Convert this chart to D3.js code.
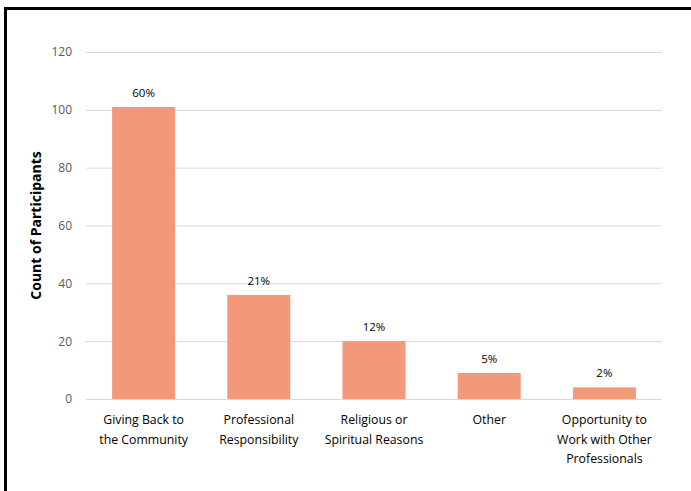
<!DOCTYPE html>
<html>
  <head>
    <meta charset="utf-8">
    <title>Count of Participants</title>
    <style>
      body { margin: 0; background: #fff; }
      text { font-family: "Open Sans", "Liberation Sans", sans-serif; }
      .grid line { stroke: #d9d9d9; stroke-width: 1px; }
      .grid path { display: none; }
      .tick text { fill: #595959; font-size: 12px; }
    </style>
    <script src="https://cdn.jsdelivr.net/npm/d3@7"></script>
  </head>
  <body>
  <script type="text/javascript">
    var categories = [
      ["Giving Back to", "the Community"],
      ["Professional", "Responsibility"],
      ["Religious or", "Spiritual Reasons"],
      ["Other"],
      ["Opportunity to", "Work with Other", "Professionals"]
    ];
    var counts = [101, 36, 20, 9, 4];
    var percents = ["60%", "21%", "12%", "5%", "2%"];
    var yTicks = [0, 20, 40, 60, 80, 100, 120];

    var width = 691, height = 491;
    // plot area edges (note: "top" is taken by window.top)
    var plotLeft = 86, plotRight = 662, plotTop = 52, plotBottom = 399;

    var svg = d3.select("body").append("svg")
      .attr("width", width)
      .attr("height", height);

    // frame round the chart, open to the right and bottom
    svg.append("rect")
      .attr("x", 5.5).attr("y", 8.5)
      .attr("width", 720).attr("height", 520)
      .attr("fill", "none")
      .attr("stroke", "#000")
      .attr("stroke-width", 3);

    var x = d3.scaleBand()
      .domain(d3.range(categories.length))
      .range([plotLeft, plotRight])
      .paddingInner(0.453)
      .paddingOuter(0.2265);

    var y = d3.scaleLinear().domain([0, 120]).range([plotBottom, plotTop]);

    // gridlines + tick labels
    var yAxis = svg.append("g")
      .attr("class", "grid")
      .attr("transform", "translate(" + plotLeft + ",0)")
      .call(d3.axisLeft(y).tickValues(yTicks).tickSize(-(plotRight - plotLeft)).tickPadding(14));
    yAxis.selectAll(".tick line").attr("stroke", "#d9d9d9");

    // bars
    svg.selectAll("rect.bar")
      .data(counts)
      .enter()
      .append("rect")
        .attr("class", "bar")
        .attr("x", function(d, i){ return x(i); })
        .attr("y", function(d){ return y(d); })
        .attr("width", x.bandwidth())
        .attr("height", function(d){ return y(0) - y(d); })
        .attr("fill", "#f4987a");

    // percent labels
    svg.selectAll("text.pct")
      .data(percents)
      .enter()
      .append("text")
        .attr("class", "pct")
        .attr("x", function(d, i){ return x(i) + x.bandwidth() / 2; })
        .attr("y", function(d, i){ return y(counts[i]) - 10; })
        .attr("text-anchor", "middle")
        .attr("font-size", "11.5px")
        .attr("fill", "#000")
        .text(function(d){ return d; });

    // category labels
    var cat = svg.selectAll("text.cat")
      .data(categories)
      .enter()
      .append("text")
        .attr("class", "cat")
        .attr("text-anchor", "middle")
        .attr("font-size", "12.3px")
        .attr("fill", "#000")
        .attr("transform", function(d, i){
          return "translate(" + (x(i) + x.bandwidth() / 2) + "," + (plotBottom + 25) + ")";
        });
    cat.selectAll("tspan")
      .data(function(d){ return d; })
      .enter()
      .append("tspan")
        .attr("x", 0)
        .attr("y", function(d, j){ return j * 19.5; })
        .text(function(d){ return d; });

    // y axis title
    svg.append("text")
      .attr("transform", "translate(41," + ((plotTop + plotBottom) / 2) + ") rotate(-90)")
      .attr("text-anchor", "middle")
      .attr("font-size", "14px")
      .attr("font-weight", "bold")
      .attr("fill", "#000")
      .text("Count of Participants");
  </script>
  </body>
</html>
